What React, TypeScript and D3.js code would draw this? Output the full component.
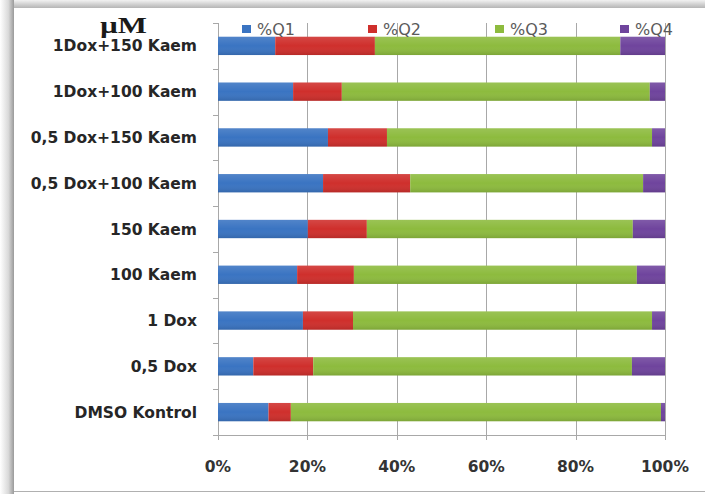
import React from "react";
import * as d3 from "d3";

// Treatment groups, top to bottom
const categories = [
  "1Dox+150 Kaem",
  "1Dox+100 Kaem",
  "0,5 Dox+150 Kaem",
  "0,5 Dox+100 Kaem",
  "150 Kaem",
  "100 Kaem",
  "1 Dox",
  "0,5 Dox",
  "DMSO Kontrol",
];

const seriesNames = ["%Q1", "%Q2", "%Q3", "%Q4"];

// Quadrant percentages per group (same order as categories)
const q1 = [12.8, 16.8, 24.6, 23.5, 20.1, 17.7, 19.0, 7.9, 11.3];
const q2 = [22.3, 10.9, 13.2, 19.5, 13.2, 12.7, 11.2, 13.4, 5.0];
const q3 = [54.9, 68.9, 59.3, 52.1, 59.5, 63.3, 66.9, 71.3, 82.8];
const q4 = [10.0, 3.4, 2.9, 4.9, 7.2, 6.3, 2.9, 7.4, 0.9];

const xTicks = [0, 0.2, 0.4, 0.6, 0.8, 1.0];

const colors = ["#3a74c2", "#cf2f2c", "#8dbb3e", "#6f449d"];

const W = 705;
const H = 494;
const left = 218;
const right = 665;
const top = 23;
const bottom = 435;

export default function App() {
  const rows = categories.map((c, i) => ({
    cat: c,
    "%Q1": q1[i],
    "%Q2": q2[i],
    "%Q3": q3[i],
    "%Q4": q4[i],
  }));
  const stacked = d3
    .stack<any>()
    .keys(seriesNames)
    .offset(d3.stackOffsetExpand)(rows);

  const x = d3.scaleLinear().domain([0, 1]).range([left, right]);
  const y = d3
    .scaleBand()
    .domain(categories)
    .range([top, bottom])
    .paddingInner(0.6)
    .paddingOuter(0.3);
  const step = y.step();
  const fmt = d3.format(".0%");

  const legendX = [242, 368, 495, 620];

  return (
    <svg
      width={W}
      height={H}
      style={{ position: "absolute", left: 0, top: 0, display: "block" }}
    >
      <defs>
        <linearGradient id="shadowL" x1="0" x2="1" y1="0" y2="0">
          <stop offset="0" stopColor="#ffffff" />
          <stop offset="0.6" stopColor="#d9d9d9" />
          <stop offset="1" stopColor="#9a9a9a" />
        </linearGradient>
        <linearGradient id="shadowT" x1="0" x2="0" y1="0" y2="1">
          <stop offset="0" stopColor="#f2f2f2" />
          <stop offset="1" stopColor="#b5b5b5" />
        </linearGradient>
        <linearGradient id="barShade" x1="0" x2="0" y1="0" y2="1">
          <stop offset="0" stopColor="#ffffff" stopOpacity="0.12" />
          <stop offset="0.5" stopColor="#ffffff" stopOpacity="0" />
          <stop offset="1" stopColor="#000000" stopOpacity="0.12" />
        </linearGradient>
      </defs>

      {/* panel frame */}
      <rect x={0} y={0} width={W} height={H} fill="#ffffff" />
      <rect x={0} y={0} width={W} height={8} fill="url(#shadowT)" />
      <rect x={0} y={0} width={14} height={H} fill="url(#shadowL)" />
      <rect x={14} y={8} width={W - 14} height={483} fill="#ffffff" />
      <line x1={14} x2={W} y1={491.5} y2={491.5} stroke="#b0b0b0" />

      {/* vertical gridlines */}
      {xTicks.slice(1).map((t) => (
        <line
          key={t}
          x1={Math.round(x(t)) + 0.5}
          x2={Math.round(x(t)) + 0.5}
          y1={top}
          y2={bottom}
          stroke="#a8a8a8"
          strokeWidth={1}
        />
      ))}

      {/* category axis */}
      <line x1={left + 0.5} x2={left + 0.5} y1={top} y2={bottom} stroke="#a8a8a8" />
      {d3.range(categories.length + 1).map((i) => (
        <line
          key={i}
          x1={left - 5}
          x2={left}
          y1={Math.round(top + i * step) + 0.5}
          y2={Math.round(top + i * step) + 0.5}
          stroke="#a8a8a8"
        />
      ))}

      {/* value axis */}
      <line x1={left} x2={right + 0.5} y1={bottom + 0.5} y2={bottom + 0.5} stroke="#a8a8a8" />
      {xTicks.map((t) => (
        <line
          key={t}
          x1={Math.round(x(t)) + 0.5}
          x2={Math.round(x(t)) + 0.5}
          y1={bottom}
          y2={bottom + 5}
          stroke="#a8a8a8"
        />
      ))}

      {/* stacked bars */}
      {stacked.map((s, si) =>
        s.map((d, i) => (
          <rect
            key={`${si}-${i}`}
            x={x(d[0])}
            y={y(categories[i])!}
            width={x(d[1]) - x(d[0])}
            height={y.bandwidth()}
            fill={colors[si]}
          />
        ))
      )}
      {categories.map((c) => (
        <rect
          key={c}
          x={left}
          y={y(c)!}
          width={right - left}
          height={y.bandwidth()}
          fill="url(#barShade)"
        />
      ))}

      {/* category labels */}
      {categories.map((c) => (
        <text
          key={c}
          x={197}
          y={y(c)! + y.bandwidth() / 2}
          dy="0.36em"
          textAnchor="end"
          fontFamily="'DejaVu Sans', sans-serif"
          fontWeight="bold"
          fontSize={15.5}
          fill="#262626"
        >
          {c}
        </text>
      ))}

      {/* tick labels */}
      {xTicks.map((t) => (
        <text
          key={t}
          x={x(t)}
          y={466}
          dy="0.36em"
          textAnchor="middle"
          fontFamily="'DejaVu Sans', sans-serif"
          fontWeight="bold"
          fontSize={15.5}
          fill="#333333"
        >
          {fmt(t)}
        </text>
      ))}

      {/* unit title */}
      <text
        x={100}
        y={33}
        textLength={47}
        lengthAdjust="spacingAndGlyphs"
        fontFamily="'Liberation Serif', 'DejaVu Serif', serif"
        fontWeight="bold"
        fontSize={24}
        fill="#1a1a1a"
      >
        µM
      </text>

      {/* legend */}
      {seriesNames.map((n, i) => (
        <g key={n}>
          <rect x={legendX[i]} y={25} width={9} height={8} fill={colors[i]} />
          <text
            x={legendX[i] + 15}
            y={29}
            dy="0.36em"
            fontFamily="'DejaVu Sans', sans-serif"
            fontSize={16}
            fill="#5a5a5a"
          >
            {n}
          </text>
        </g>
      ))}
    </svg>
  );
}
